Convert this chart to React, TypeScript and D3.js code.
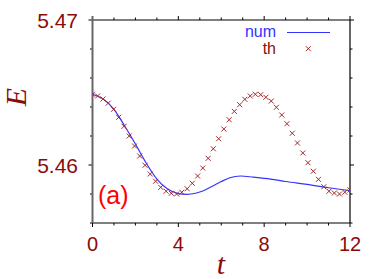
import React from "react";
import * as d3 from "d3";

const T_TH = [0, 0.24, 0.49, 0.73, 0.98, 1.22, 1.47, 1.71, 1.96, 2.2, 2.45, 2.69, 2.94, 3.18, 3.43, 3.67, 3.92, 4.16, 4.41, 4.65, 4.9, 5.14, 5.39, 5.63, 5.88, 6.12, 6.37, 6.61, 6.86, 7.1, 7.35, 7.59, 7.84, 8.08, 8.33, 8.57, 8.82, 9.06, 9.31, 9.55, 9.8, 10.04, 10.29, 10.53, 10.78, 11.02, 11.27, 11.51, 11.76, 12];
const E_TH = [
  5.46488, 5.46476, 5.46455, 5.46426, 5.46384, 5.46329, 5.46267, 5.462, 5.46131, 5.46062,
  5.45998, 5.45938, 5.45888, 5.45846, 5.45819, 5.45805, 5.458, 5.45812, 5.45836, 5.45874,
  5.45924, 5.45979, 5.46046, 5.46112, 5.46181, 5.46248, 5.46312, 5.4637, 5.46416, 5.46453,
  5.46476, 5.46488, 5.46485, 5.46467, 5.46441, 5.46398, 5.46345, 5.46285, 5.46219, 5.46152,
  5.46083, 5.46016, 5.45957, 5.45901, 5.4585, 5.45819, 5.45807, 5.458, 5.45812, 5.45828,
];
const T_NUM = [0, 0.5, 1, 1.5, 2, 2.5, 3, 3.5, 4, 4.4, 4.8, 5.2, 5.6, 6, 6.4, 6.9, 7.5, 8.3, 9, 10, 11, 12];
const E_NUM = [5.46488, 5.46455, 5.46384, 5.46269, 5.46145, 5.46014, 5.45903, 5.45834, 5.45803, 5.45798, 5.45805, 5.45824, 5.45855, 5.45886, 5.45912, 5.45924, 5.45916, 5.45903, 5.45886, 5.45866, 5.45843, 5.45823];

const X_MAJOR = [0, 4, 8, 12];
const X_MINOR = d3.range(0, 13, 1);
const Y_MAJOR = [5.46, 5.47];
const Y_MINOR = [5.456, 5.458, 5.46, 5.462, 5.464, 5.466, 5.468, 5.47];

const DARK = "#8b0a0a";
const BROWN = "#a52a2a";
const BLUE = "#3333ff";

export default function App() {
  const W = 374, H = 279;
  const L = 92.5, R = 350, T = 20, B = 223;
  const x = d3.scaleLinear().domain([0, 12]).range([L, R]);
  const y = d3.scaleLinear().domain([5.456, 5.47]).range([B, T]);
  const line = d3
    .line<number>()
    .x((_, i) => x(T_NUM[i]))
    .y((d) => y(d))
    .curve(d3.curveMonotoneX);
  const sans = "'Liberation Sans', Arial, sans-serif";
  const serif = "'Liberation Serif', 'DejaVu Serif', serif";
  const ms = 2.5;
  return (
    <svg width={W} height={H} style={{ position: "absolute", left: 0, top: 0, background: "#fff" }}>
      <defs>
        <clipPath id="plot">
          <rect x={L} y={T} width={R - L} height={B - T} />
        </clipPath>
      </defs>
      {/* ticks */}
      {X_MINOR.map((v) => {
        const len = X_MAJOR.includes(v) ? 4 : 2.5;
        return (
          <g key={"xt" + v} stroke="#000" strokeWidth={1}>
            <line x1={x(v)} x2={x(v)} y1={B} y2={B + len} />
            <line x1={x(v)} x2={x(v)} y1={T} y2={T - len} />
          </g>
        );
      })}
      {Y_MINOR.map((v) => {
        const len = Y_MAJOR.some((m) => Math.abs(m - v) < 1e-9) ? 4 : 2.5;
        return (
          <g key={"yt" + v} stroke="#000" strokeWidth={1}>
            <line x1={L} x2={L - len} y1={y(v)} y2={y(v)} />
            <line x1={R} x2={R + len} y1={y(v)} y2={y(v)} />
          </g>
        );
      })}
      {/* frame */}
      <line x1={L} x2={R} y1={T} y2={T} stroke="#000" strokeWidth={1.2} />
      <line x1={L} x2={R} y1={B} y2={B} stroke="#000" strokeWidth={1.2} />
      <line x1={R} x2={R} y1={T} y2={B} stroke="#000" strokeWidth={1.2} />
      <line x1={L} x2={L} y1={T - 4} y2={B} stroke="#666" strokeWidth={2} />
      {/* data */}
      <g clipPath="url(#plot)">
        <path d={line(E_NUM) || ""} fill="none" stroke={BLUE} strokeWidth={1.2} />
        {E_TH.map((v, i) => {
          const cx = x(T_TH[i]);
          const cy = y(v);
          return (
            <g key={"m" + i} stroke={BROWN} strokeWidth={1}>
              <line x1={cx - ms} x2={cx + ms} y1={cy - ms} y2={cy + ms} />
              <line x1={cx - ms} x2={cx + ms} y1={cy + ms} y2={cy - ms} />
            </g>
          );
        })}
      </g>
      {/* tick labels */}
      {X_MAJOR.map((v) => (
        <text key={"xl" + v} x={x(v)} y={251} textAnchor="middle" fontFamily={sans} fontSize={20} fill={DARK}>
          {v}
        </text>
      ))}
      {Y_MAJOR.map((v) => (
        <text key={"yl" + v} x={78} y={y(v) + 7.5} textAnchor="end" fontFamily={sans} fontSize={21} fill={DARK}>
          {v.toFixed(2)}
        </text>
      ))}
      {/* axis labels */}
      <text x={221} y={273.5} textAnchor="middle" fontFamily={serif} fontStyle="italic" fontSize={30} fill={DARK}>
        t
      </text>
      <text
        transform={`translate(26,97) rotate(-90)`}
        textAnchor="middle"
        fontFamily={serif}
        fontStyle="italic"
        fontSize={30}
        fill={DARK}
      >
        E
      </text>
      {/* panel label */}
      <text x={98} y={204} fontFamily={sans} fontSize={25} fill="#ff0000">
        (a)
      </text>
      {/* legend */}
      <text x={276} y={37} textAnchor="end" fontFamily={sans} fontSize={16} fill={BLUE}>
        num
      </text>
      <line x1={287} x2={330} y1={32.5} y2={32.5} stroke={BLUE} strokeWidth={1.2} />
      <text x={276} y={54} textAnchor="end" fontFamily={sans} fontSize={16} fill={DARK}>
        th
      </text>
      <g stroke={BROWN} strokeWidth={1}>
        <line x1={308.3 - ms} x2={308.3 + ms} y1={48.7 - ms} y2={48.7 + ms} />
        <line x1={308.3 - ms} x2={308.3 + ms} y1={48.7 + ms} y2={48.7 - ms} />
      </g>
    </svg>
  );
}
